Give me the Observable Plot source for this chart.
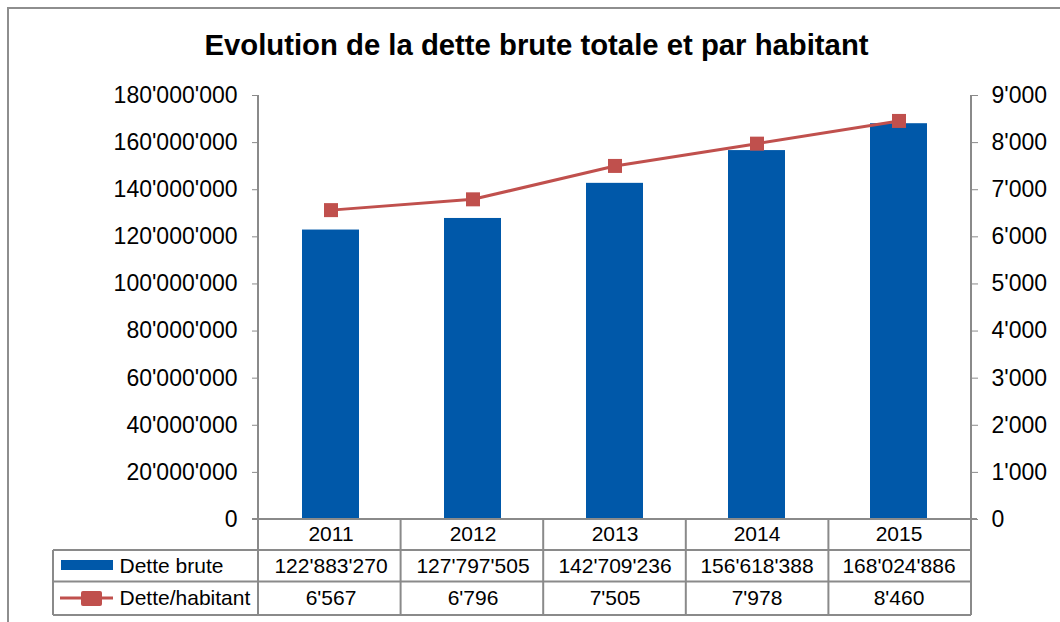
<!DOCTYPE html>
<html><head><meta charset="utf-8">
<script src="https://cdn.jsdelivr.net/npm/d3@7"></script>
<script src="https://cdn.jsdelivr.net/npm/@observablehq/plot@0.6"></script>
<style>
body{margin:0;background:#fff;overflow:hidden;font-family:"Liberation Sans",Arial,sans-serif;}
#wrap{position:relative;width:1060px;height:622px;overflow:hidden;}
#border{position:absolute;left:7px;top:7px;width:1200px;height:800px;border:2px solid #8e8e8e;}
#title{position:absolute;left:0;top:26px;width:1073px;text-align:center;font-weight:bold;font-size:29.3px;line-height:38px;color:#000;}
#chart{position:absolute;left:0;top:70px;}
</style></head><body>
<div id="wrap"><div id="border"></div><div id="title">Evolution de la dette brute totale et par habitant</div><div id="chart"></div></div>
<script>
// ---- data ----
const years = ["2011", "2012", "2013", "2014", "2015"];
const detteBrute = [122883270, 127797505, 142709236, 156618388, 168024886];
const detteHabitant = [6567, 6796, 7505, 7978, 8460];
const leftTicks = [0, 20000000, 40000000, 60000000, 80000000, 100000000, 120000000, 140000000, 160000000, 180000000];
const rightTicks = [0, 1000, 2000, 3000, 4000, 5000, 6000, 7000, 8000, 9000];
const seriesNames = ["Dette brute", "Dette/habitant"];

// ---- styles ----
const blue = "#0058A9", red = "#C0504D", grid = "#8a8a8a";
const W = 1060, H = 552, mL = 258, mR = 89, mT = 25, mB = 103;

const ratio = leftTicks[leftTicks.length - 1] / rightTicks[rightTicks.length - 1];
const fmt = d3.formatLocale({decimal: ".", thousands: "'", grouping: [3], currency: ["", ""]}).format(",");
const data = years.map((y, i) => ({year: y, brute: detteBrute[i], hab: detteHabitant[i]}));

const tcell = {frameAnchor: "bottom", lineAnchor: "middle", fontSize: 21, fill: "#000"};
const plot = Plot.plot({
  width: W, height: H,
  marginLeft: mL, marginRight: mR, marginTop: mT, marginBottom: mB,
  style: {fontFamily: "'Liberation Sans', Arial, sans-serif", fontSize: "23px", color: "#000", background: "transparent"},
  x: {domain: years, paddingInner: 0.6, paddingOuter: 0.3, axis: null},
  y: {domain: [0, leftTicks[leftTicks.length - 1]], axis: null},
  marks: [
    Plot.barY(data, {x: "year", y: "brute", fill: blue}),
    Plot.line(data, {x: "year", y: d => d.hab * ratio, stroke: red, strokeWidth: 3}),
    Plot.dot(data, {x: "year", y: d => d.hab * ratio, symbol: "square", r: 7.9, fill: red}),
    Plot.axisY(leftTicks, {anchor: "left", tickFormat: fmt, tickSize: 6, tickPadding: 15, stroke: grid, label: null, fontSize: 23}),
    Plot.axisY(rightTicks.map(v => v * ratio), {anchor: "right", tickFormat: d => fmt(d / ratio), tickSize: 6, tickPadding: 14, stroke: grid, label: null, fontSize: 23}),
    // table rows
    Plot.text(data, {x: "year", text: "year", dy: 15, ...tcell}),
    Plot.text(data, {x: "year", text: d => fmt(d.brute), dy: 47, ...tcell}),
    Plot.text(data, {x: "year", text: d => fmt(d.hab), dy: 79, ...tcell}),
    Plot.text([seriesNames[0]], {text: d => d, ...tcell, frameAnchor: "bottom-left", dx: -139, dy: 47, textAnchor: "start"}),
    Plot.text([seriesNames[1]], {text: d => d, ...tcell, frameAnchor: "bottom-left", dx: -139, dy: 79, textAnchor: "start"})
  ]
});
document.getElementById("chart").appendChild(plot);

// ---- table grid & axis lines ----
const svg = d3.select(plot);
const g = svg.append("g").attr("stroke", grid).attr("stroke-width", 2).attr("fill", "none");
const x0 = mL, x1 = W - mR, yb = H - mB, yt = mT;
const step = (x1 - x0) / years.length;
const r1 = yb + 31, r2 = yb + 62.5, r3 = yb + 96, tableLeft = 53;
const line = (a, b, c, d) => g.append("line").attr("x1", a).attr("y1", b).attr("x2", c).attr("y2", d);
line(x0 - 6, yb, x1 + 6, yb);
line(x0, yt, x0, r3);
line(x1, yt, x1, r3);
for (let i = 1; i < years.length; i++) line(x0 + i * step, yb, x0 + i * step, r3);
[r1, r2, r3].forEach(y => line(tableLeft, y, x1, y));
line(tableLeft, r1, tableLeft, r3);
// legend keys
svg.append("rect").attr("x", 61).attr("y", r1 + 10).attr("width", 52).attr("height", 10).attr("fill", blue);
svg.append("line").attr("x1", 60).attr("x2", 113).attr("y1", r2 + 16.5).attr("y2", r2 + 16.5).attr("stroke", red).attr("stroke-width", 3);
svg.append("rect").attr("x", 81).attr("y", r2 + 9.5).attr("width", 21).attr("height", 15).attr("rx", 2).attr("fill", red);
</script>
</body></html>
